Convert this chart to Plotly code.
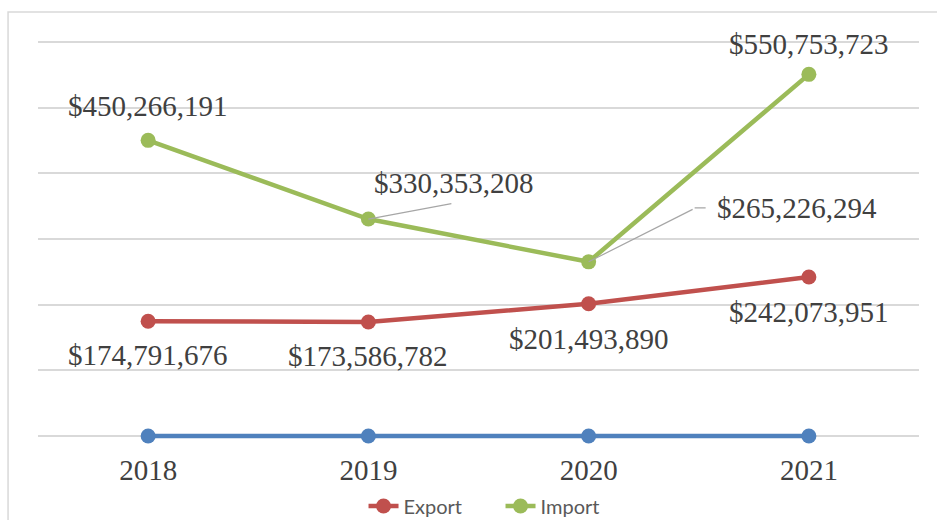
import plotly.graph_objects as go

years = ["2018", "2019", "2020", "2021"]
export_vals = [174791676, 173586782, 201493890, 242073951]
import_vals = [450266191, 330353208, 265226294, 550753723]
base_vals = [0, 0, 0, 0]

BLUE = "#4F81BD"
RED = "#C0504D"
GREEN = "#9BBB59"
TXT = "#404040"
SERIF = "Liberation Serif"

fig = go.Figure()
fig.add_trace(go.Scatter(x=years, y=base_vals, mode="lines+markers", showlegend=False,
                         line=dict(color=BLUE, width=4.5), marker=dict(size=15, color=BLUE),
                         cliponaxis=False, hoverinfo="skip"))
fig.add_trace(go.Scatter(x=years, y=export_vals, name="Export", mode="lines+markers",
                         line=dict(color=RED, width=4.5), marker=dict(size=15, color=RED),
                         cliponaxis=False))
fig.add_trace(go.Scatter(x=years, y=import_vals, name="Import", mode="lines+markers",
                         line=dict(color=GREEN, width=4.5), marker=dict(size=15, color=GREEN),
                         cliponaxis=False))

def fmt(v):
    return "${:,}".format(v)

# label offsets (pixels) relative to each point
imp_off = [(0, 34), (86, 36), (208, 54), (0, 30)]
exp_off = [(0, -34), (0, -34), (0, -35), (0, -35)]
for i, (v, (dx, dy)) in enumerate(zip(import_vals, imp_off)):
    fig.add_annotation(x=i, y=v, xref="x", yref="y", text=fmt(v), showarrow=False,
                       xshift=dx, yshift=dy, font=dict(family=SERIF, size=29, color=TXT))
for i, (v, (dx, dy)) in enumerate(zip(export_vals, exp_off)):
    fig.add_annotation(x=i, y=v, xref="x", yref="y", text=fmt(v), showarrow=False,
                       xshift=dx, yshift=dy, font=dict(family=SERIF, size=29, color=TXT))

# leader lines
LEAD = "#A6A6A6"
fig.add_annotation(x=1, y=import_vals[1], xref="x", yref="y", text=" ", showarrow=True,
                   arrowhead=0, arrowwidth=1.2, arrowcolor=LEAD, ax=86, ay=-16, standoff=0)
fig.add_annotation(x=2, y=import_vals[2], xref="x", yref="y", text=" ", showarrow=True,
                   arrowhead=0, arrowwidth=1.2, arrowcolor=LEAD, ax=107, ay=-54, standoff=0)
fig.add_annotation(x=2, y=import_vals[2], xref="x", yref="y", text=" ", showarrow=True,
                   arrowhead=0, arrowwidth=1.2, arrowcolor=LEAD, ax=14, ay=0, standoff=0,
                   xshift=106, yshift=54)

PXM = 394 / 600e6  # pixels per unit on value axis
pad = 3 / PXM

fig.update_layout(
    width=937, height=520,
    margin=dict(l=38, r=18, t=39, b=81, autoexpand=False),
    paper_bgcolor="white", plot_bgcolor="white",
    showlegend=True,
    legend=dict(orientation="h", x=0.525, xanchor="center", yref="container", y=0.027,
                yanchor="middle", font=dict(family="Lato", size=20, color="#595959"),
                tracegroupgap=0, itemwidth=30, entrywidth=92, entrywidthmode="pixels"),
    shapes=[dict(type="rect", xref="paper", yref="paper", x0=-0.034, x1=1.2, y0=-0.4, y1=1.0675,
                 line=dict(color="#D9D9D9", width=1.5), layer="below")],
    xaxis=dict(type="category", range=[-0.5, 3.5], showgrid=False, showline=False, zeroline=False,
               ticks="", ticklabelstandoff=11, automargin=False,
               tickfont=dict(family=SERIF, size=29, color=TXT)),
    yaxis=dict(range=[-pad, 600e6 + pad], dtick=100000000, showgrid=True, gridcolor="#D9D9D9",
               gridwidth=1.5, showticklabels=False, zeroline=False, showline=False, ticks="",
               automargin=False),
    hovermode=False,
)

fig.write_html("out.html", config={"displayModeBar": False},
               post_script="document.body.style.margin='0';")
